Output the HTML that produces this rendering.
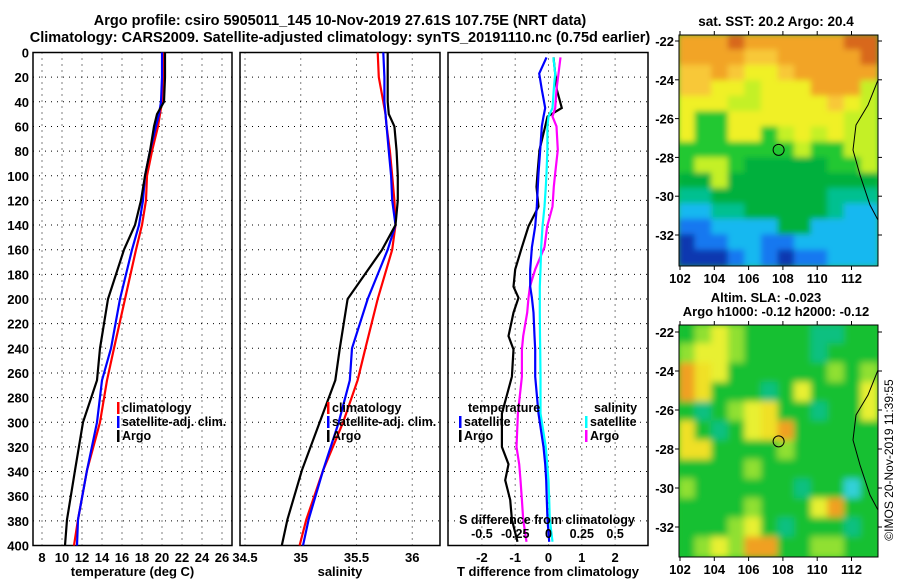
<!DOCTYPE html>
<html><head><meta charset="utf-8"><style>
html,body{margin:0;padding:0;background:#fff;}
svg{display:block;font-family:"Liberation Sans",sans-serif;font-weight:bold;}
</style></head><body>
<svg id="fig" width="900" height="580" viewBox="0 0 900 580" xmlns="http://www.w3.org/2000/svg">
<text x="340" y="25" font-size="14.5" text-anchor="middle">Argo profile: csiro 5905011_145 10-Nov-2019 27.61S 107.75E (NRT data)</text>
<text x="340" y="42" font-size="14.5" text-anchor="middle">Climatology: CARS2009. Satellite-adjusted climatology: synTS_20191110.nc (0.75d earlier)</text>
<g id="p1"></g>
<g id="p2"></g>
<g id="p3"></g>
<g id="m1"></g>
<g id="m2"></g>
<text x="776" y="26" font-size="13.5" text-anchor="middle">sat. SST: 20.2 Argo: 20.4</text>
<text x="766" y="302" font-size="13" text-anchor="middle">Altim. SLA: -0.023</text>
<text x="776" y="316" font-size="13" text-anchor="middle">Argo h1000: -0.12 h2000: -0.12</text>
<text transform="translate(893,460) rotate(-90)" font-size="12" font-weight="normal" text-anchor="middle">©IMOS 20-Nov-2019 11:39:55</text>
</svg>
<script>
// ---- data ----
const tDepth   = [0,20,40,50,60,80,100,120,140,160,200,240,266,300,339,379,400];
const tClim    = [20.1,20.1,20.0,19.8,19.6,19.0,18.5,18.4,18.0,17.4,16.3,15.2,14.5,13.8,12.5,11.6,11.2];
const tSat     = [20.0,20.0,19.9,19.7,19.4,18.8,18.3,18.1,17.7,17.0,15.8,14.9,14.0,13.5,12.5,11.6,11.5];
const tArgo    = [20.3,20.3,20.2,19.5,19.2,18.8,18.3,17.9,17.3,16.2,14.6,13.8,13.5,12.1,11.3,10.5,10.3];
const sClim    = [35.69,35.70,35.74,35.76,35.77,35.80,35.82,35.84,35.85,35.82,35.69,35.58,35.51,35.38,35.20,35.05,34.99];
const sSat     = [35.74,35.75,35.75,35.76,35.77,35.79,35.81,35.82,35.85,35.78,35.60,35.46,35.44,35.34,35.20,35.07,35.02];
const sArgo    = [35.78,35.78,35.78,35.79,35.84,35.86,35.87,35.87,35.85,35.73,35.42,35.35,35.31,35.17,35.01,34.88,34.83];
const dDepth   = [4,17,30,45,52,60,79,98,109,125,141,158,176,190,199,211,230,241,263,293,320,334,347,363,379,397];
const dTArgo   = [0.15,0.2,0.25,0.4,-0.03,-0.1,-0.27,-0.33,-0.36,-0.3,-0.6,-0.8,-1.0,-1.05,-0.9,-1.05,-1.2,-1.05,-1.1,-1.4,-1.4,-1.2,-1.3,-1.15,-1.1,-0.93];
const dTSat    = [-0.06,-0.28,-0.2,-0.1,-0.15,-0.2,-0.25,-0.3,-0.32,-0.35,-0.4,-0.5,-0.55,-0.55,-0.5,-0.45,-0.42,-0.4,-0.4,-0.3,-0.15,-0.1,-0.07,-0.05,-0.03,0.02];
const dSArgo   = [0.09,0.075,0.06,0.05,0.03,0.06,0.07,0.05,0.04,0.03,-0.01,-0.03,-0.1,-0.14,-0.15,-0.16,-0.19,-0.2,-0.2,-0.23,-0.24,-0.22,-0.21,-0.2,-0.19,-0.165];
const dSSat    = [0.037,0.05,0.04,0.03,0.0,-0.008,-0.008,-0.015,-0.02,-0.03,-0.045,-0.055,-0.06,-0.065,-0.065,-0.065,-0.064,-0.062,-0.06,-0.06,-0.02,-0.01,0.0,0.005,0.01,0.03];
const depthTicks = [0,20,40,60,80,100,120,140,160,180,200,220,240,260,280,300,320,340,360,380,400];
const tTicks = [8,10,12,14,16,18,20,22,24,26];
const sTicks = [34.5,35,35.5,36];
const dtTicks = [-2,-1,0,1,2];
const dsTicks = [-0.5,-0.25,0,0.25,0.5];
const dsTickLabels = ['-0.5','-0.25','0','0.25','0.5'];
const lonTicks = [102,104,106,108,110,112];
const latTicks = [-22,-24,-26,-28,-30,-32];
const map1Rows = ["OOOoOOOOOOoo","OOOOyyOOOOOo","yyOyYYyOOOOO","yyYYlYYYOOOl","YYYllYYYYyYl","YggYYYYYYYll","YggYYglYlYll","ggggggglggll","gllgGGGGGggl","GGlGGGGGGGGG","ttGGGGGGGttt","ccttGGGGGtcc","bbccccGGcccc","Bbbccbbccccc","BBBbcbBbbccc"];
const map2Rows = ["glYlggggttgg","lYYlggggtggg","OyYgggggglgl","OygggtgYgggY","gtglYyggtggY","ygtgYyOggggg","yygggglggggg","gggglggggggg","lggggggtggcg","gggglgggYOgg","ggglYgtgggtg","glYlOOggllgg"];

// ---- helpers ----
const NS="http://www.w3.org/2000/svg";
function mk(parent,tag,attrs,text){const e=document.createElementNS(NS,tag);for(const k in attrs)e.setAttribute(k,attrs[k]);if(text!==undefined)e.textContent=text;parent.appendChild(e);return e;}
const Y0=52.5, YK=(545.5-52.5)/400;
const yD=d=>Y0+d*YK;
function panel(g,x0,x1,xs,gridVals,tickVals,tickLbls,xlabel,showDepth){
  mk(g,'rect',{x:x0,y:Y0,width:x1-x0,height:545.5-Y0,fill:'#fff',stroke:'#000','stroke-width':1.5});
  depthTicks.forEach(d=>{
    if(d>0&&d<400){const l=mk(g,'line',{x1:x0,x2:x1,y1:yD(d),y2:yD(d),stroke:'#000','stroke-dasharray':'1 5'});
      }
    if(showDepth){const t=mk(g,'text',{x:x0-4,y:yD(d)+5,'font-size':13,'text-anchor':'end'},String(d));
      }
  });
  gridVals.forEach(v=>{const l=mk(g,'line',{x1:xs(v),x2:xs(v),y1:Y0,y2:545.5,stroke:'#000','stroke-dasharray':'1 5'});
    });
  tickVals.forEach((v,i)=>{const t=mk(g,'text',{x:xs(v),y:562,'font-size':13,'text-anchor':'middle'},tickLbls[i]);
    });
  const xl=mk(g,'text',{x:(x0+x1)/2,y:576,'font-size':13,'text-anchor':'middle'},xlabel);
  
}
function line(g,xs,vals,depths,color,name){
  const pts=vals.map((v,i)=>xs(v).toFixed(1)+','+yD(depths[i]).toFixed(1)).join(' ');
  const p=mk(g,'polyline',{points:pts,fill:'none',stroke:color,'stroke-width':2.2});
  
}
function legend(g,x,y,items){
  items.forEach((it,i)=>{const yy=y+i*14;
    mk(g,'rect',{x:x,y:yy-10,width:2.5,height:12,fill:it[0]});
    const t=mk(g,'text',{x:x+5,y:yy,'font-size':12.5},it[1]);
    });
}
// panel 1
const p1=document.getElementById('p1');
const xT=v=>42+(v-8)*10;
panel(p1,33,232,xT,tTicks,tTicks,tTicks.map(String),'temperature (deg C)',true);
line(p1,xT,tClim,tDepth,'#ff0000','temp-climatology-line');
line(p1,xT,tSat,tDepth,'#0000ff','temp-satellite-line');
line(p1,xT,tArgo,tDepth,'#000000','temp-argo-line');
legend(p1,117,412,[['#f00','climatology'],['#00f','satellite-adj. clim.'],['#000','Argo']]);
// panel 2
const p2=document.getElementById('p2');
const xS=v=>245+(v-34.5)*111.5;
panel(p2,240,440,xS,sTicks,sTicks,['34.5','35','35.5','36'],'salinity',false);
line(p2,xS,sClim,tDepth,'#ff0000','sal-climatology-line');
line(p2,xS,sSat,tDepth,'#0000ff','sal-satellite-line');
line(p2,xS,sArgo,tDepth,'#000000','sal-argo-line');
legend(p2,327,412,[['#f00','climatology'],['#00f','satellite-adj. clim.'],['#000','Argo']]);
// panel 3
const p3=document.getElementById('p3');
const xDT=v=>548.5+v*33.3;
const xDS=v=>548.5+v*133.2;
panel(p3,448,648,xDT,dtTicks,dtTicks,dtTicks.map(String),'T difference from climatology',false);
line(p3,xDT,dTArgo,dDepth,'#000000','tdiff-argo-line');
line(p3,xDS,dSArgo,dDepth,'#ff00ff','sdiff-argo-line');
line(p3,xDS,dSSat,dDepth,'#00ffff','sdiff-satellite-line');
line(p3,xDT,dTSat,dDepth,'#0000ff','tdiff-satellite-line');
const tl=mk(p3,'text',{x:468,y:412,'font-size':12.5},'temperature');

legend(p3,459,426,[['#00f','satellite'],['#000','Argo']]);
const sl=mk(p3,'text',{x:594,y:412,'font-size':12.5},'salinity');

legend(p3,585,426,[['#0ff','satellite'],['#f0f','Argo']]);
const st=mk(p3,'text',{x:547,y:524,'font-size':12.5,'text-anchor':'middle'},'S difference from climatology');

dsTicks.forEach((v,i)=>{const t=mk(p3,'text',{x:xDS(v),y:538,'font-size':12.5,'text-anchor':'middle'},dsTickLabels[i]);
  });
// maps
const pal1={o:'#d8681a',O:'#f2a428',y:'#f8c838',Y:'#f0f028',l:'#c4f028',g:'#20c830',G:'#00b03c',t:'#00c090',c:'#18b8f0',b:'#1878f0',B:'#0838b0'};
const pal2={O:'#f0a020',y:'#f0e028',Y:'#e8f030',l:'#90e030',g:'#18c030',t:'#10c080',c:'#30d0d8'};
function map(g,x0,x1,y0,y1,rows,pal,latTop,latStep,blur){
  const defs=mk(g,'defs',{});
  const id='bl'+g.id;const f=mk(defs,'filter',{id:id,x:'-5%',y:'-5%',width:'110%',height:'110%'});
  mk(f,'feGaussianBlur',{stdDeviation:blur});
  const cp=mk(defs,'clipPath',{id:'cp'+g.id});mk(cp,'rect',{x:x0,y:y0,width:x1-x0,height:y1-y0});
  const gg=mk(g,'g',{'clip-path':'url(#cp'+g.id+')'});
  mk(gg,'rect',{x:x0,y:y0,width:x1-x0,height:y1-y0,fill:pal.g});
  const gb=mk(gg,'g',{filter:'url(#'+id+')'});
  const nr=rows.length,nc=rows[0].length,cw=(x1-x0)/nc,ch=(y1-y0)/nr;
  rows.forEach((r,i)=>{for(let j=0;j<nc;j++){const c=mk(gb,'rect',{x:x0+j*cw-1,y:y0+i*ch-1,width:cw+2,height:ch+2,fill:pal[r[j]]||pal.g});
    }});
  const cst=mk(gg,'path',{d:`M${x1} ${y0+45} L${x1-10} ${y0+70} L${x1-22} ${y0+90} L${x1-25} ${y0+115} L${x1-18} ${y0+140} L${x1-8} ${y0+170} L${x1} ${y0+185}`,fill:'none',stroke:'#000','stroke-width':1});
  
  mk(g,'rect',{x:x0,y:y0,width:x1-x0,height:y1-y0,fill:'none',stroke:'#000','stroke-width':1});
  const lx=v=>680+(v-102)*17.15;
  lonTicks.forEach(v=>{mk(g,'line',{x1:lx(v),x2:lx(v),y1:y1,y2:y1+4,stroke:'#000'});mk(g,'line',{x1:lx(v),x2:lx(v),y1:y0-4,y2:y0,stroke:'#000'});
    const t=mk(g,'text',{x:lx(v),y:y1+17,'font-size':13,'text-anchor':'middle'},String(v));
    });
  latTicks.forEach(v=>{const yy=latTop+(-22-v)*latStep;
    mk(g,'line',{x1:x0-4,x2:x0,y1:yy,y2:yy,stroke:'#000'});mk(g,'line',{x1:x1,x2:x1+4,y1:yy,y2:yy,stroke:'#000'});
    const t=mk(g,'text',{x:x0-5,y:yy+5,'font-size':13,'text-anchor':'end'},String(v));
    });
  const m=mk(g,'circle',{cx:lx(107.75),cy:latTop+(27.61-22)*latStep,r:5.5,fill:'none',stroke:'#000','stroke-width':1});
  
}
map(document.getElementById('m1'),679,878,35,266,map1Rows,pal1,41,19.4,3);
map(document.getElementById('m2'),679,878,325,557,map2Rows,pal2,332,19.5,3.5);
</script>
</body></html>
